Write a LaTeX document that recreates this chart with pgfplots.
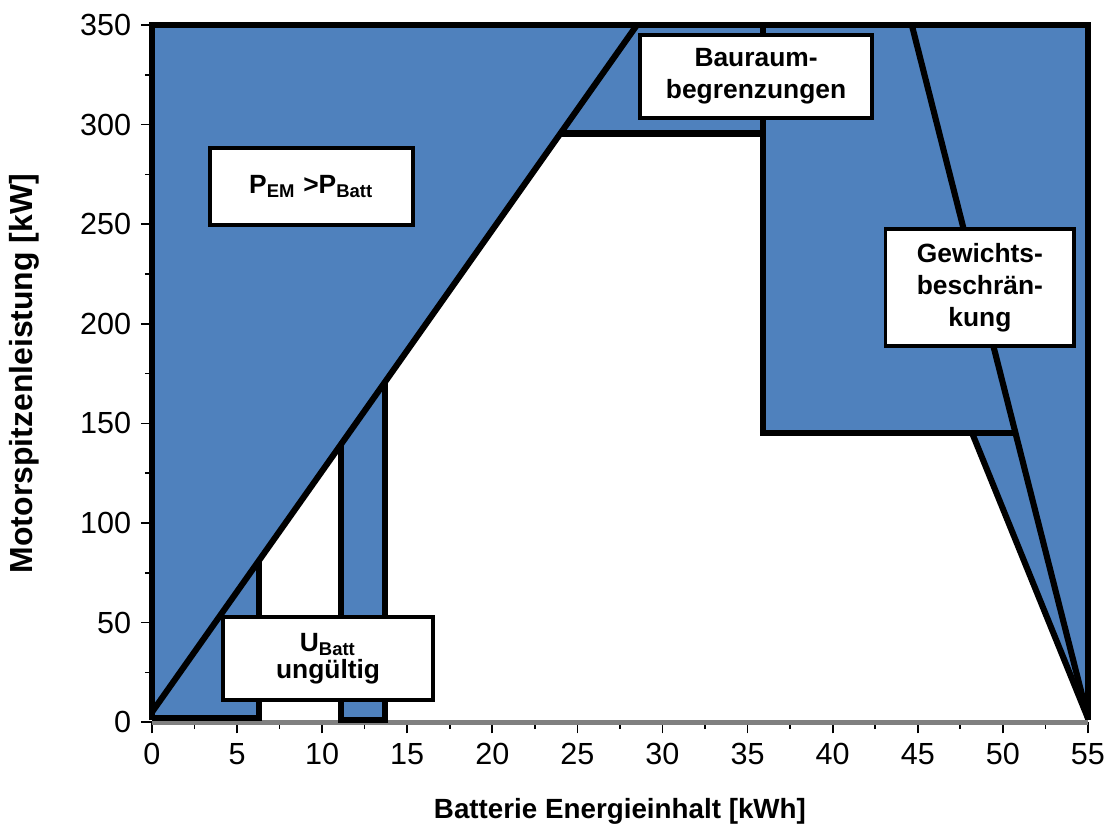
\documentclass[border=0pt]{standalone}
\usepackage{fontspec}
\setmainfont{Liberation Sans}
\usepackage{pgfplots}
\pgfplotsset{compat=1.18}
\definecolor{fillblue}{RGB}{79,129,189}
\definecolor{axisgray}{RGB}{128,128,128}
\tikzset{box/.style={draw=black, line width=1.4pt, fill=white, align=center, inner sep=0pt, font=\bfseries\fontsize{9.5}{11.5}\selectfont}}
\begin{document}
\begin{tikzpicture}
\begin{axis}[
  scale only axis, width=337pt, height=251pt,
  xmin=0, xmax=55, ymin=0, ymax=350,
  axis line style={draw=none},
  clip=false, no markers,
  tick pos=left, tick align=outside,
  xtick={0,5,...,55}, ytick={0,50,...,350},
  minor x tick num=1, minor y tick num=1,
  major tick length=4pt, minor tick length=2.5pt,
  tick style={black, line width=0.6pt},
  /pgf/number format/assume math mode=true,
  ticklabel style={font=\fontsize{11}{13}\selectfont},
  xlabel={Batterie Energieinhalt [kWh]},
  ylabel={Motorspitzenleistung [kW]},
  xlabel style={font=\bfseries\fontsize{10}{12}\selectfont, at={(axis description cs:0.5,-0.138)}, anchor=base},
  ylabel style={font=\bfseries\fontsize{11.5}{13}\selectfont, at={(axis description cs:-0.1365,0.5)}, anchor=center},
]
% bottom gray axis line
\addplot[draw=axisgray, line width=1.8pt] coordinates {(0,0) (55,0)};
% blue regions
\addplot[fill=fillblue, draw=none] coordinates {(0,2) (0,350) (28.5,350) (6.3,81.3) (6.3,2)} --cycle;
\addplot[fill=fillblue, draw=none] coordinates {(11.1,1) (11.1,139.4) (13.7,170.8) (13.7,1)} --cycle;
\addplot[fill=fillblue, draw=none] coordinates {(24,295.5) (28.5,350) (35.9,350) (35.9,295.5)} --cycle;
\addplot[fill=fillblue, draw=none] coordinates {(35.9,350) (35.9,145) (48.2,145) (55,2) (55,350)} --cycle;
% black outlines
\addplot[black, line width=2.2pt, line join=miter] coordinates {(0,1) (0,350) (55,350) (55,1)};
\addplot[black, line width=2.2pt] coordinates {(0,5) (28.5,350)};
\addplot[black, line width=2.2pt, line join=miter] coordinates {(0,2) (6.3,2) (6.3,81.3)};
\addplot[black, line width=2.2pt, line join=miter] coordinates {(11.1,139.4) (11.1,1) (13.7,1) (13.7,170.8)};
\addplot[black, line width=2.2pt] coordinates {(24,295.5) (35.9,295.5)};
\addplot[black, line width=2.2pt, line join=miter] coordinates {(35.9,350) (35.9,145) (50.76,145)};
\addplot[black, line width=2.2pt] coordinates {(44.65,350) (55,2)};
\addplot[black, line width=2.2pt] coordinates {(48.2,145) (55,2)};
% annotation boxes
\node[box, minimum width=73pt, minimum height=27.7pt] at (axis cs:9.37,269) {P\textsubscript{EM} >P\textsubscript{Batt}};
\node[box, minimum width=83.5pt, minimum height=30pt] at (axis cs:35.5,324.2) {Bauraum-\\begrenzungen};
\node[box, minimum width=68pt, minimum height=42pt] at (axis cs:48.65,218.2) {Gewichts-\\beschrän-\\kung};
\node[box, minimum width=75.6pt, minimum height=30pt, font=\bfseries\fontsize{9.5}{10}\selectfont] at (axis cs:10.35,31.9) {U\textsubscript{Batt}\\ungültig};
\end{axis}
\pgfresetboundingbox
\path[use as bounding box] ([xshift=-54.7pt,yshift=-36.4pt]current axis.south west) rectangle ([xshift=8.3pt,yshift=9pt]current axis.north east);
\end{tikzpicture}
\end{document}
